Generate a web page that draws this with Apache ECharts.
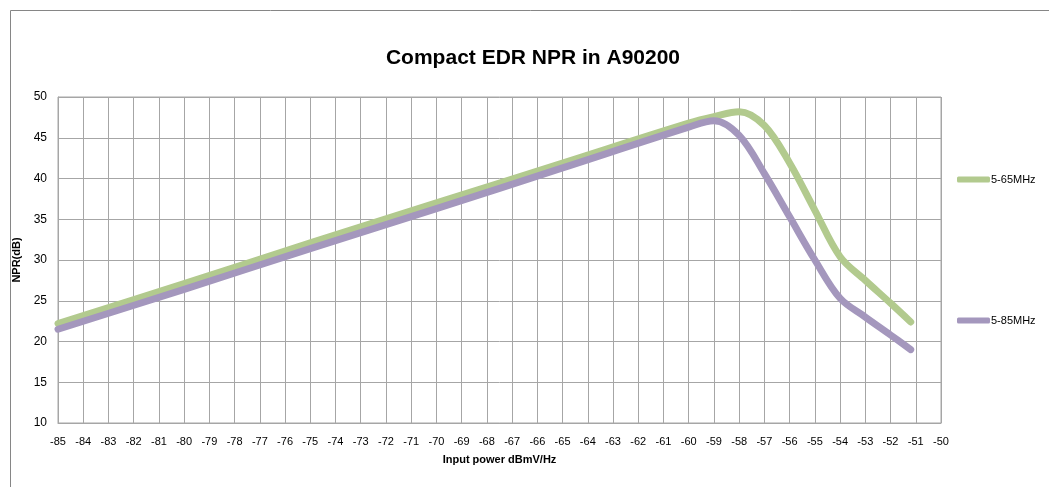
<!DOCTYPE html>
<html>
<head>
<meta charset="utf-8">
<script src="https://cdn.jsdelivr.net/npm/echarts@6/dist/echarts.min.js"></script>
<style>
  html, body { margin: 0; padding: 0; background: #fff; }
  #main { width: 1049px; height: 487px; }
</style>
</head>
<body>
<div id="main"></div>
<script>
// input power (dBmV/Hz) vs NPR (dB)
const band65X = [-85, -80, -75, -70, -65, -60, -59, -58, -57, -56, -55, -54, -53, -52, -51.2];
const band65Y = [22.2, 27.1, 32.1, 37.0, 41.9, 46.8, 47.6, 48.2, 46.5, 41.9, 36.1, 30.4, 27.5, 24.7, 22.4];
const band85X = [-85, -80, -75, -70, -65, -60, -59, -58, -57, -56, -55, -54, -53, -52, -51.2];
const band85Y = [21.5, 26.4, 31.4, 36.3, 41.3, 46.3, 47.1, 45.3, 40.6, 35.3, 30.0, 25.3, 23.0, 20.8, 19.0];
const seriesNames = ['5-65MHz', '5-85MHz'];

const pairs = (xs, ys) => xs.map((x, i) => [x, ys[i]]);

const chart = echarts.init(document.getElementById('main'));
const gridColor = '#a6a6a6';

const option = {
  animation: false,
  graphic: [{
    type: 'rect',
    shape: { x: 10.5, y: 10.5, width: 1060, height: 500 },
    style: { fill: 'none', stroke: '#868686', lineWidth: 1 },
    silent: true
  }],
  title: {
    text: 'Compact EDR NPR in A90200',
    left: 528, top: 43, textAlign: 'center',
    textStyle: { fontFamily: 'Liberation Sans', fontSize: 21, fontWeight: 'bold', color: '#000' }
  },
  legend: [
    {
      data: [seriesNames[0]], left: 952, top: 169,
      itemWidth: 33, itemHeight: 6, itemGap: 0, icon: 'roundRect',
      textStyle: { fontFamily: 'Liberation Sans', fontSize: 11, color: '#000', padding: [0, 0, 0, -4] }
    },
    {
      data: [seriesNames[1]], left: 952, top: 310,
      itemWidth: 33, itemHeight: 6, itemGap: 0, icon: 'roundRect',
      textStyle: { fontFamily: 'Liberation Sans', fontSize: 11, color: '#000', padding: [0, 0, 0, -4] }
    }
  ],
  grid: { left: 58, right: 108, top: 97, bottom: 64, show: true, borderColor: gridColor, borderWidth: 1 },
  xAxis: {
    type: 'value', min: -85, max: -50, interval: 1,
    name: 'Input power dBmV/Hz', nameLocation: 'middle', nameGap: 31,
    nameTextStyle: { fontFamily: 'Liberation Sans', fontSize: 11, fontWeight: 'bold', color: '#000' },
    axisLine: { show: true, lineStyle: { color: gridColor } },
    axisTick: { show: false },
    axisLabel: { fontFamily: 'Liberation Sans', fontSize: 11, color: '#000', margin: 13 },
    splitLine: { show: true, lineStyle: { color: gridColor, width: 1 } }
  },
  yAxis: {
    type: 'value', min: 10, max: 50, interval: 5,
    name: 'NPR(dB)', nameLocation: 'middle', nameGap: 32, nameRotate: 90,
    nameTextStyle: { fontFamily: 'Liberation Sans', fontSize: 11, fontWeight: 'bold', color: '#000' },
    axisLine: { show: true, lineStyle: { color: gridColor } },
    axisTick: { show: false },
    axisLabel: { fontFamily: 'Liberation Sans', fontSize: 12, color: '#000', margin: 11 },
    splitLine: { show: true, lineStyle: { color: gridColor, width: 1 } }
  },
  series: [
    {
      name: seriesNames[0], type: 'line', smooth: 0.35, symbol: 'none',
      data: pairs(band65X, band65Y),
      lineStyle: { color: '#b2ca8e', width: 7, cap: 'round', join: 'round' },
      itemStyle: { color: '#b2ca8e' }
    },
    {
      name: seriesNames[1], type: 'line', smooth: 0.35, symbol: 'none',
      data: pairs(band85X, band85Y),
      lineStyle: { color: '#a497bd', width: 7, cap: 'round', join: 'round' },
      itemStyle: { color: '#a497bd' }
    }
  ]
};

chart.setOption(option);
window.addEventListener('resize', () => chart.resize());
</script>
</body>
</html>
